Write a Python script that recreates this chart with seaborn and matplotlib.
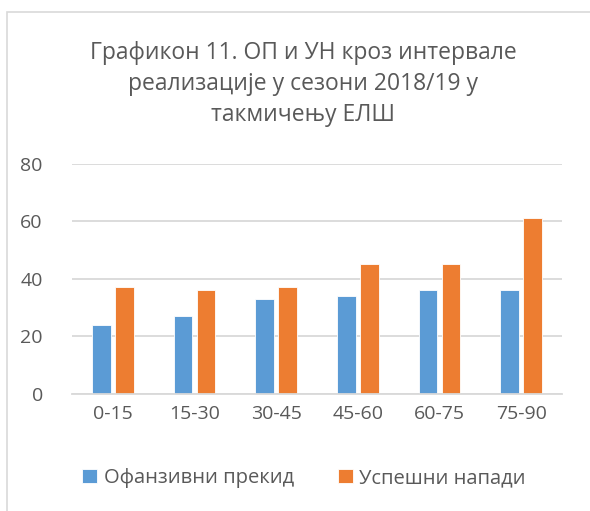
import matplotlib
matplotlib.use("Agg")
import matplotlib.pyplot as plt
import seaborn as sns
import pandas as pd
from matplotlib.patches import Rectangle

categories = ["0-15", "15-30", "30-45", "45-60", "60-75", "75-90"]
series_names = ["Офанзивни прекид", "Успешни напади"]
offensive = [24, 27, 33, 34, 36, 36]
successful = [37, 36, 37, 45, 45, 61]
yticks = [0, 20, 40, 60, 80]
title = "Графикон 11. ОП и УН кроз интервале\nреализације у сезони 2018/19 у\nтакмичењу ЕЛШ"

df = pd.DataFrame({
    "interval": categories * 2,
    "series": [series_names[0]] * len(categories) + [series_names[1]] * len(categories),
    "value": offensive + successful,
})

sns.set_theme(style="white")
plt.rcParams["font.family"] = ["Open Sans", "DejaVu Sans"]
txt = "#595959"
grid = "#D9D9D9"

fig = plt.figure(figsize=(5.9, 5.11), dpi=100)
ax = fig.add_axes([72/590, 1-393.7/511, 490/590, 230/511])

sns.barplot(data=df, x="interval", y="value", hue="series", order=categories,
            hue_order=series_names, palette=["#5B9BD5", "#ED7D31"], saturation=1,
            width=0.57, gap=0.2, edgecolor="white", linewidth=0.6, ax=ax,
            legend=True)

ax.set_ylim(0, 80)
ax.set_yticks(yticks)
ax.set_xlim(-0.5, len(categories) - 0.5)
ax.yaxis.grid(True, color=grid, linewidth=1.3)
ax.set_axisbelow(True)
for s in ["top", "right", "left"]:
    ax.spines[s].set_visible(False)
ax.spines["bottom"].set_color(grid)
ax.spines["bottom"].set_linewidth(1.3)
ax.tick_params(axis="both", length=0, colors=txt, labelsize=14)
ax.tick_params(axis="y", pad=21)
ax.tick_params(axis="x", pad=8)
ax.set_xlabel("")
ax.set_ylabel("")

handles, labels = ax.get_legend_handles_labels()
ax.legend_.remove()
fig.legend(handles, labels, loc="center", bbox_to_anchor=(304/590, 1-478/511),
           ncol=2, frameon=False, fontsize=14.5, handlelength=0.75, handleheight=0.75,
           handletextpad=0.3, columnspacing=2.2, labelcolor=txt)

fig.text(303/590, 1-84/511, title, ha="center", va="center", fontsize=16.5,
         color=txt, linespacing=1.4)

fig.patches.append(Rectangle((7/590, -0.1), 1.2, 1 - 12/511 + 0.1,
                             transform=fig.transFigure, fill=False,
                             edgecolor=grid, linewidth=1.2))

fig.savefig("out.png", dpi=100)
